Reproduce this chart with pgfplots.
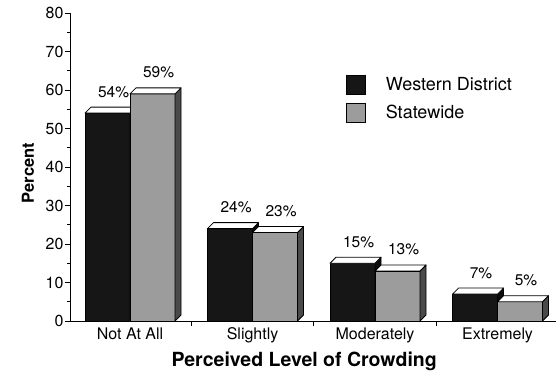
\documentclass[border=0pt]{standalone}
\usepackage{pgfplots}
\pgfplotsset{compat=1.18}
\usepackage{pgfplotstable}
\usepackage{fontspec}
\setmainfont{TeX Gyre Heros}

\definecolor{westfront}{HTML}{161616}
\definecolor{westside}{HTML}{0C0C0C}
\definecolor{statefront}{HTML}{9C9C9C}
\definecolor{stateside}{HTML}{4A4A4A}

% Perceived level of crowding, percent of respondents
\pgfplotstableread{
cat west state
0   54   59
1   24   23
2   15   13
3    7    5
}\crowding

% bar geometry
\def\hw{22.5pt}    % half width of the front face
\def\ddx{6pt}      % depth offset to the right
\def\ddy{6pt}      % depth offset upwards
\def\yunit{3.85}   % pt per percent
\newdimen\barh

% box outline of every bar (front, side and top face), drawn from its top-front centre
\pgfplotsset{
  box faces/.style 2 args={
    draw=none, no markers, forget plot,
    point meta=explicit symbolic,
    nodes near coords={%
      \global\barh=\pgfplotspointmeta pt\global\barh=\yunit\barh
      \tikz[overlay, line width=0.8pt, line join=round]{%
        \filldraw[draw=black, fill=#1] (-\hw,0pt) rectangle (\hw,-\barh);
        \filldraw[draw=black, fill=#2]
          (\hw,0pt) -- ++(\ddx,\ddy) -- ++(0pt,-\barh) -- (\hw,-\barh) -- cycle;
        \filldraw[draw=black, fill=white]
          (-\hw,0pt) -- ++(\ddx,\ddy) -- ++(45pt,0pt) -- (\hw,0pt) -- cycle;
      }},
    nodes near coords style={anchor=base, inner sep=0pt, outer sep=0pt},
  },
  value labels/.style={
    draw=none, no markers, forget plot,
    point meta=explicit symbolic,
    nodes near coords={\pgfplotspointmeta\%},
    nodes near coords style={anchor=base, inner sep=0pt, xshift=6pt, yshift=16pt,
      text=black, font=\fontsize{15.5}{18}\selectfont},
  },
}

\begin{document}
\begin{tikzpicture}
\begin{axis}[
  x=122.5pt, y=3.85pt,
  xmin=-0.49, xmax=3.48, ymin=0, ymax=80,
  clip=false,
  axis x line=bottom, axis y line=left,
  axis line style={-, line width=0.8pt},
  tick align=outside,
  major tick length=5pt, minor tick length=3pt,
  tick style={black, line width=0.8pt},
  ytick={0,10,...,80}, minor y tick num=1,
  xtick={0.5,1.5,2.5}, xticklabels={,,},
  extra x ticks={0,1,2,3},
  extra x tick labels={Not At All, Slightly, Moderately, Extremely},
  extra x tick style={major tick length=0pt},
  /pgf/number format/assume math mode=true,
  ticklabel style={font=\fontsize{16}{19}\selectfont},
  yticklabel style={xshift=2pt},
  xticklabel style={yshift=-3pt},
  xlabel={\textbf{Perceived Level of Crowding}},
  xlabel style={at={(axis description cs:0.4815,-0.149)}, anchor=base,
    font=\fontsize{19.5}{22}\selectfont},
  ylabel={\textbf{Percent}},
  ylabel style={at={(axis description cs:-0.0741,0.48)}, anchor=base,
    font=\fontsize{16.5}{19}\selectfont},
  legend style={at={(axis description cs:0.568,0.7987)}, anchor=north west,
    draw=none, fill=none, inner sep=0pt, row sep=8pt,
    font=\fontsize{18}{21}\selectfont,
    nodes={inner sep=0pt}},
  legend cell align=left,
  legend image code/.code={%
    \draw[#1, line width=0.8pt] (0pt,-9.5pt) rectangle (19pt,9.5pt);
    \path[draw=none, fill=none] (19pt,0pt) -- (39pt,0pt);
  },
]
  % front faces of the bars
  \addplot[ybar, bar width=45pt, bar shift=0pt, fill=westfront, draw=black, line width=0.8pt]
    table[x expr=\thisrow{cat}-0.18367, y=west] {\crowding};
  \addlegendentry{Western District}
  \addplot[ybar, bar width=45pt, bar shift=0pt, fill=statefront, draw=black, line width=0.8pt]
    table[x expr=\thisrow{cat}+0.18367, y=state] {\crowding};
  \addlegendentry{Statewide}

  % solid boxes: Western District first, Statewide in front of it
  \addplot[box faces={westfront}{westside}]
    table[x expr=\thisrow{cat}-0.18367, y=west, meta=west] {\crowding};
  \addplot[box faces={statefront}{stateside}]
    table[x expr=\thisrow{cat}+0.18367, y=state, meta=state] {\crowding};

  % value labels above the bars
  \addplot[value labels]
    table[x expr=\thisrow{cat}-0.18367, y=west, meta=west] {\crowding};
  \addplot[value labels]
    table[x expr=\thisrow{cat}+0.18367, y=state, meta=state] {\crowding};
\end{axis}
\pgfresetboundingbox
\path[use as bounding box] (-70pt,-55pt) rectangle (487pt,321pt);
\end{tikzpicture}
\end{document}
